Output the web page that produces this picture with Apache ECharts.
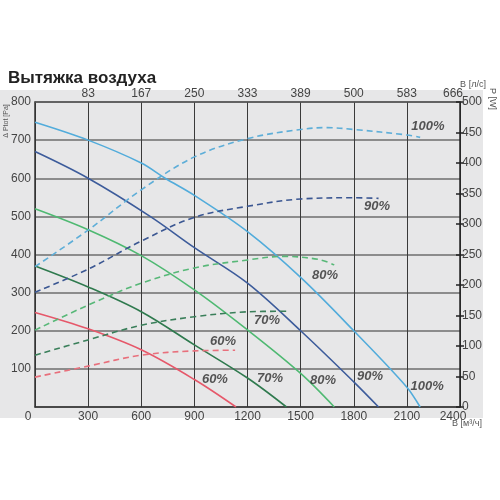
<!DOCTYPE html>
<html>
<head>
<meta charset="utf-8">
<script src="https://cdn.jsdelivr.net/npm/echarts@6/dist/echarts.min.js"></script>
<style>
  html, body { margin: 0; padding: 0; background: #fff; }
  #chart { width: 500px; height: 500px; }
</style>
</head>
<body>
<div id="chart"></div>
<script>
  // airflow m3/h on bottom axis, top axis shows l/s labels at the same gridlines
  const topTicks = ['', '83', '167', '250', '333', '389', '500', '583', '666'];

  // pressure curves [m3/h, Pa]
  const p100 = [[0, 747], [300, 700], [600, 640], [735, 600], [900, 555], [1200, 460], [1500, 340], [1800, 200], [2100, 52], [2175, 0]];
  const p90 = [[0, 670], [300, 600], [650, 500], [900, 418], [1200, 325], [1500, 200], [1800, 66], [1940, 0]];
  const p80 = [[0, 520], [300, 465], [600, 397], [900, 307], [1200, 202], [1500, 88], [1690, 0]];
  const p70 = [[0, 370], [300, 315], [600, 250], [900, 163], [1200, 76], [1420, 0]];
  const p60 = [[0, 248], [300, 205], [600, 150], [900, 72], [1135, 0]];

  // power curves [m3/h, W]
  const w100 = [[0, 230], [300, 290], [600, 356], [900, 410], [1200, 440], [1500, 455], [1650, 458], [1800, 455], [2100, 446], [2175, 442]];
  const w90 = [[0, 188], [300, 226], [600, 272], [900, 311], [1200, 329], [1500, 341], [1800, 343], [1940, 342]];
  const w80 = [[0, 126], [300, 167], [600, 203], [900, 228], [1200, 241], [1400, 247], [1600, 242], [1690, 233]];
  const w70 = [[0, 85], [300, 110], [600, 134], [900, 148], [1200, 156], [1420, 157]];
  const w60 = [[0, 49], [300, 67], [600, 85], [900, 92], [1130, 93]];

  // speed labels [m3/h, Pa, text]
  const speedLabels = [
    [2219, 737, '100%'], [1931, 525, '90%'], [1638, 346, '80%'], [1310, 228, '70%'], [1062, 173, '60%'],
    [1016, 73, '60%'], [1327, 76, '70%'], [1626, 71, '80%'], [1892, 79, '90%'], [2214, 55, '100%'],
  ];

  const colors = {
    c100: '#52acdb',
    c90: '#3d5c9b',
    c80: '#4fb972',
    c70: '#2f7a4e',
    c60: '#e6586a',
  };

  const solid = (name, data, color) => ({
    name,
    type: 'line',
    data,
    smooth: 0.35,
    symbol: 'none',
    lineStyle: { color, width: 1.6 },
    z: 3,
  });

  const dashed = (name, data, color) => ({
    name,
    type: 'line',
    yAxisIndex: 1,
    data,
    smooth: 0.35,
    symbol: 'none',
    lineStyle: { color, width: 1.6, type: [6, 4] },
    z: 3,
  });

  const font = 'Liberation Sans, Arial, sans-serif';

  const axisName = (text, x, y, rotation, size) => ({
    type: 'text',
    x,
    y,
    rotation,
    silent: true,
    z: 10,
    style: {
      text,
      fill: '#555',
      font: `${size}px ${font}`,
      textAlign: 'center',
      textVerticalAlign: 'middle',
    },
  });

  // end labels sit a little inward from the axis ends
  const edgeRich = {
    l: { fontSize: 12, color: '#444', padding: [0, 14, 0, 0] },
    r: { fontSize: 12, color: '#444', padding: [0, 0, 0, -14] },
  };

  const gridBox = { left: 35, right: 40, top: 102, bottom: 93 };

  const chart = echarts.init(document.getElementById('chart'), null, { renderer: 'canvas' });

  chart.setOption({
    animation: false,
    backgroundColor: '#fff',
    textStyle: { fontFamily: font },
    title: {
      text: 'Вытяжка воздуха',
      left: 3,
      top: 65,
      textStyle: { fontSize: 17, fontWeight: 'bold', color: '#222', fontFamily: font },
    },
    graphic: [
      {
        type: 'rect',
        shape: { x: 0, y: 90, width: 483, height: 328 },
        style: { fill: '#e7e7e8' },
        z: -10,
        silent: true,
      },
      axisName('Δ Ptot [Pa]', 6, 121, Math.PI / 2, 7),
      axisName('P [W]', 492, 99, -Math.PI / 2, 9),
      axisName('B [л/с]', 473, 85, 0, 9),
      axisName('B [м³/ч]', 467, 424, 0, 9),
    ],
    // second grid only carries the inner half of the crossing ticks on the power axis
    grid: [{ ...gridBox }, { ...gridBox }],
    xAxis: [
      {
        type: 'value',
        position: 'bottom',
        min: 0,
        max: 2400,
        interval: 300,
        axisLine: { onZero: false, lineStyle: { color: '#333', width: 1.5 } },
        axisTick: { show: false },
        axisLabel: {
          fontSize: 12,
          color: '#444',
          margin: 4,
          formatter: (v) => (v === 0 ? '{l|0}' : v === 2400 ? '{r|2400}' : String(v)),
          rich: edgeRich,
        },
        splitLine: { show: true, lineStyle: { color: '#3a3a3a', width: 1 } },
      },
      {
        type: 'value',
        position: 'top',
        min: 0,
        max: 2400,
        interval: 300,
        axisLine: { onZero: false, lineStyle: { color: '#555', width: 1.5 } },
        axisTick: { show: false },
        axisLabel: {
          fontSize: 12,
          color: '#444',
          margin: 2,
          formatter: (v) => {
            const t = topTicks[Math.round(v / 300)] || '';
            return v === 2400 ? `{r|${t}}` : t;
          },
          rich: edgeRich,
        },
        splitLine: { show: false },
      },
      {
        type: 'value',
        gridIndex: 1,
        min: 0,
        max: 2400,
        show: false,
      },
    ],
    yAxis: [
      {
        type: 'value',
        position: 'left',
        min: 0,
        max: 800,
        interval: 100,
        axisLine: { show: true, onZero: false, lineStyle: { color: '#333', width: 1.5 } },
        axisTick: { show: false },
        axisLabel: { fontSize: 12, color: '#444', margin: 4, showMinLabel: false },
        splitLine: { show: true, lineStyle: { color: '#6e6e6e', width: 1.6 } },
      },
      {
        type: 'value',
        position: 'right',
        min: 0,
        max: 500,
        interval: 50,
        axisLine: { show: true, onZero: false, lineStyle: { color: '#222', width: 1.5 } },
        axisTick: { show: true, length: 4, lineStyle: { color: '#222', width: 1.5 } },
        axisLabel: { fontSize: 12, color: '#444', margin: 2 },
        splitLine: { show: false },
      },
      {
        type: 'value',
        gridIndex: 1,
        position: 'right',
        min: 0,
        max: 500,
        interval: 50,
        axisLine: { show: false, onZero: false },
        axisTick: { show: true, inside: true, length: 4, lineStyle: { color: '#222', width: 1.5 } },
        axisLabel: { show: false },
        splitLine: { show: false },
      },
    ],
    series: [
      solid('100%', p100, colors.c100),
      solid('90%', p90, colors.c90),
      solid('80%', p80, colors.c80),
      solid('70%', p70, colors.c70),
      solid('60%', p60, colors.c60),
      dashed('P 100%', w100, '#5eaed8'),
      dashed('P 90%', w90, '#3b5792'),
      dashed('P 80%', w80, '#58b878'),
      dashed('P 70%', w70, '#3a7f5a'),
      dashed('P 60%', w60, '#e8707c'),
      {
        name: 'labels',
        type: 'scatter',
        data: speedLabels,
        symbolSize: 0,
        silent: true,
        z: 5,
        label: {
          show: true,
          position: 'inside',
          formatter: (p) => p.data[2],
          fontSize: 13,
          fontWeight: 'bold',
          fontStyle: 'italic',
          color: '#2e2e2e',
          fontFamily: font,
        },
      },
    ],
  });
</script>
</body>
</html>
